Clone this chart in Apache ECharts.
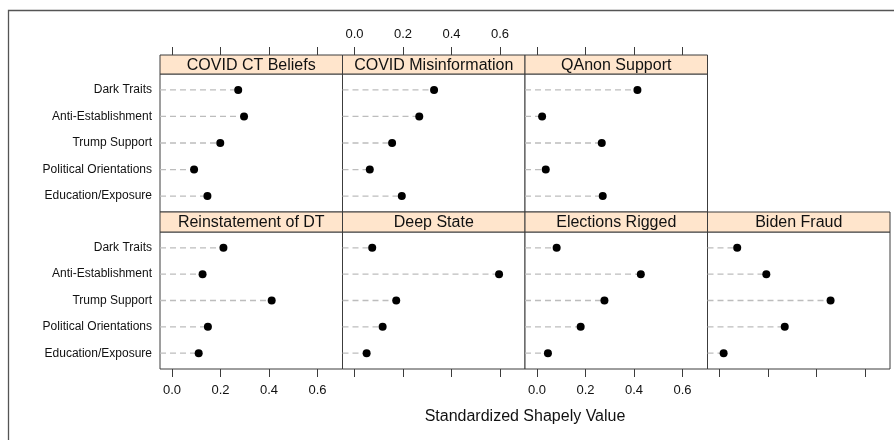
<!DOCTYPE html>
<html>
<head>
<meta charset="utf-8">
<script src="https://cdn.jsdelivr.net/npm/echarts@6/dist/echarts.min.js"></script>
<style>
html,body{margin:0;padding:0;background:#fff;}
#chart{width:894px;height:440px;}
</style>
</head>
<body>
<div id="chart"></div>
<script>
// ---- data ----
var categories = ['Dark Traits', 'Anti-Establishment', 'Trump Support', 'Political Orientations', 'Education/Exposure'];
var panelTitles = ['COVID CT Beliefs', 'COVID Misinformation', 'QAnon Support', 'Reinstatement of DT', 'Deep State', 'Elections Rigged', 'Biden Fraud'];
var covidCT    = [0.273, 0.297, 0.199, 0.091, 0.146];
var covidMis   = [0.328, 0.267, 0.155, 0.063, 0.195];
var qanon      = [0.414, 0.021, 0.267, 0.036, 0.271];
var reinstate  = [0.212, 0.126, 0.411, 0.148, 0.110];
var deepState  = [0.073, 0.596, 0.172, 0.116, 0.050];
var elections  = [0.081, 0.428, 0.278, 0.180, 0.045];
var biden      = [0.073, 0.193, 0.458, 0.269, 0.017];
var tickValues = [0.0, 0.2, 0.4, 0.6];
var axisTitle = 'Standardized Shapely Value';

// ---- layout ----
var panelValues = [covidCT, covidMis, qanon, reinstate, deepState, elections, biden];
var X_MIN = -0.0495, X_MAX = 0.703;
var colLeft = [160, 342.5, 525, 707.5];
var colW = 182.5;
var rows = [{stripTop: 55, top: 74, h: 138}, {stripTop: 212, top: 232, h: 137}];
var panelPos = [[0,0],[0,1],[0,2],[1,0],[1,1],[1,2],[1,3]];
var FONT = '"Liberation Sans", Arial, Helvetica, sans-serif';
var TXT = '#111';
var BORDER = '#3c3c3c';

var grids = [], xAxes = [], yAxes = [], series = [], graphics = [];

panelPos.forEach(function (rc, p) {
  var r = rc[0], c = rc[1];
  var row = rows[r];
  grids.push({
    left: colLeft[c], top: row.top, width: colW, height: row.h,
    show: true, borderColor: BORDER, borderWidth: 1, backgroundColor: '#fff'
  });
  var isBottom = (r === 1);
  var showBottomLabels = isBottom && (c === 0 || c === 2);
  var bIdx = xAxes.length;
  xAxes.push({
    type: 'value', gridIndex: p, min: X_MIN, max: X_MAX, position: 'bottom',
    axisLine: {show: false},
    splitLine: {show: false},
    axisTick: {show: isBottom, length: 8, inside: false, customValues: tickValues,
               lineStyle: {color: BORDER, width: 1}},
    axisLabel: {show: showBottomLabels, customValues: tickValues, margin: 15,
                fontSize: 13, color: TXT, fontFamily: FONT,
                formatter: function (v) { return v.toFixed(1); }}
  });
  if (!isBottom) {
    xAxes.push({
      type: 'value', gridIndex: p, min: X_MIN, max: X_MAX, position: 'top', offset: 19,
      axisLine: {show: false},
      splitLine: {show: false},
      axisTick: {show: true, length: 8, inside: false, customValues: tickValues,
                 lineStyle: {color: BORDER, width: 1}},
      axisLabel: {show: c === 1, customValues: tickValues, margin: 14,
                  fontSize: 13, color: TXT, fontFamily: FONT,
                  formatter: function (v) { return v.toFixed(1); }}
    });
  }
  yAxes.push({
    type: 'value', gridIndex: p, min: 0.4, max: 5.6, inverse: true,
    axisLine: {show: false}, splitLine: {show: false},
    axisTick: {show: false},
    axisLabel: {show: c === 0, customValues: [1,2,3,4,5], margin: 8,
                fontSize: 12, color: TXT, fontFamily: FONT,
                formatter: function (v) { return categories[Math.round(v) - 1] || ''; }}
  });
  var data = panelValues[p].map(function (v, i) { return [v, i + 1]; });
  series.push({
    type: 'custom', xAxisIndex: bIdx, yAxisIndex: p, z: 2,
    data: data, encode: {x: 0, y: 1}, silent: true,
    renderItem: function (params, api) {
      var y = api.value(1), v = api.value(0);
      var a = api.coord([X_MIN, y]), b = api.coord([v, y]);
      return {type: 'line', shape: {x1: a[0], y1: a[1], x2: b[0], y2: b[1]},
              style: {stroke: '#bdbdbd', lineWidth: 1.3, lineDash: [6, 4]}};
    }
  });
  series.push({
    type: 'scatter', xAxisIndex: bIdx, yAxisIndex: p, z: 3,
    data: data, symbol: 'circle', symbolSize: 8, silent: true,
    itemStyle: {color: '#000', opacity: 1}
  });
  graphics.push({
    type: 'rect', z: 10,
    shape: {x: colLeft[c], y: row.stripTop, width: colW, height: row.top - row.stripTop},
    style: {fill: '#ffe5cc', stroke: BORDER, lineWidth: 1}
  });
  graphics.push({
    type: 'text', z: 11,
    x: colLeft[c] + colW / 2, y: (row.stripTop + row.top) / 2 + 1,
    style: {text: panelTitles[p], fill: TXT, font: '16px ' + FONT,
            textAlign: 'center', textVerticalAlign: 'middle'}
  });
});

graphics.push({
  type: 'rect', z: 0,
  shape: {x: 8.5, y: 10.5, width: 900, height: 440},
  style: {fill: 'none', stroke: '#555', lineWidth: 1.3}
});
graphics.push({
  type: 'text', z: 11,
  x: 525, y: 417,
  style: {text: axisTitle, fill: TXT, font: '16px ' + FONT,
          textAlign: 'center', textVerticalAlign: 'middle'}
});

var chart = echarts.init(document.getElementById('chart'), null, {renderer: 'canvas'});
chart.setOption({
  animation: false,
  backgroundColor: '#fff',
  grid: grids,
  xAxis: xAxes,
  yAxis: yAxes,
  series: series,
  graphic: {elements: graphics}
});
</script>
</body>
</html>
